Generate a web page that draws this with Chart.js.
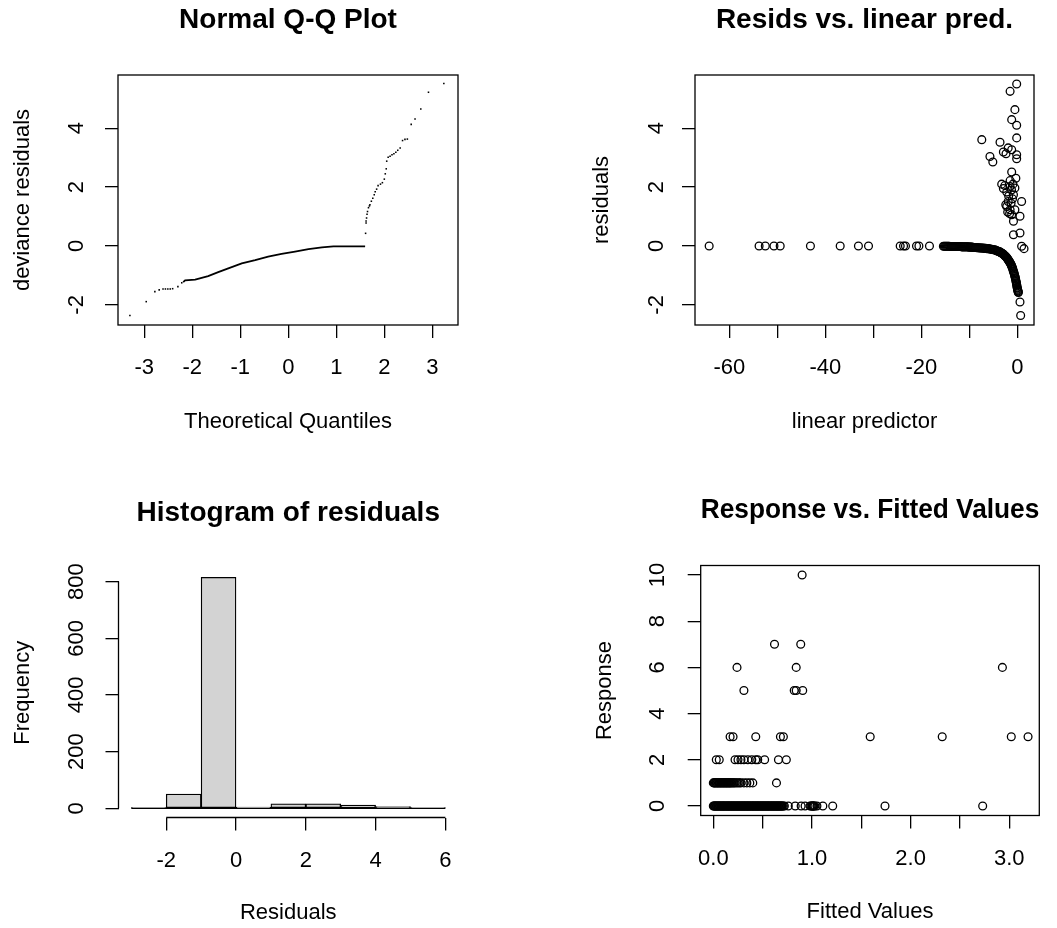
<!DOCTYPE html>
<html>
<head>
<meta charset="utf-8">
<script src="https://cdn.jsdelivr.net/npm/chart.js@4.4.1/dist/chart.umd.min.js"></script>
<style>
html,body{margin:0;padding:0;background:#fff;}
#wrap{position:relative;width:1057px;height:928px;overflow:hidden;background:#fff;}
canvas{position:absolute;}
</style>
</head>
<body>
<div id="wrap">
<canvas id="c1" width="528" height="464" style="left:0px;top:0px"></canvas>
<canvas id="c2" width="529" height="464" style="left:528px;top:0px"></canvas>
<canvas id="c3" width="528" height="464" style="left:0px;top:464px"></canvas>
<canvas id="c4" width="529" height="464" style="left:528px;top:464px"></canvas>
</div>
<script>
// ---------------- DATA ----------------
// Panel 1: Normal Q-Q plot (theoretical quantile, deviance residual)
const qqLowX = [-3.30, -2.96, -2.78, -2.69, -2.61, -2.56, -2.51, -2.46, -2.41, -2.30, -2.22];
const qqLowY = [-2.36, -1.89, -1.55, -1.49, -1.46, -1.46, -1.46, -1.46, -1.45, -1.38, -1.25];
const qqMidX = [-2.19, -2.15, -1.94, -1.67, -1.46, -1.25, -0.97, -0.69, -0.42, -0.14, 0.14, 0.42, 0.70, 0.94, 1.60];
const qqMidY = [-1.23, -1.17, -1.14, -1.02, -0.89, -0.76, -0.59, -0.48, -0.36, -0.27, -0.19, -0.11, -0.05, -0.01, -0.01];
const qqHighX = [1.61, 1.62, 1.62, 1.63, 1.64, 1.65, 1.67, 1.69, 1.70, 1.73, 1.76, 1.79, 1.81, 1.84, 1.87, 1.92, 1.96, 2.00, 2.02, 2.04, 2.05, 2.08, 2.12, 2.16, 2.20, 2.24, 2.28, 2.33, 2.38, 2.43, 2.48, 2.56, 2.64, 2.76, 2.92, 3.24];
const qqHighY = [0.43, 0.78, 0.85, 0.95, 1.08, 1.17, 1.30, 1.36, 1.40, 1.52, 1.62, 1.74, 1.84, 1.93, 2.05, 2.10, 2.15, 2.27, 2.45, 2.62, 2.88, 3.01, 3.05, 3.10, 3.13, 3.18, 3.25, 3.33, 3.58, 3.62, 3.63, 4.13, 4.31, 4.65, 5.22, 5.52];

// Panel 2: residuals vs linear predictor
const lpFarX = [-64.2, -53.8, -52.5, -50.7, -49.4, -43.1, -36.9, -33.1, -31.0, -24.4, -23.7, -23.3, -21.0, -20.5, -18.3];
const lpFarY = [0, 0, 0, 0, 0, 0, 0, 0, 0, 0, 0, 0, 0, 0, 0];
const lpCurveX = [-15.4, -15.0, -14.6, -14.2, -13.8, -13.4, -13.0, -12.6, -12.2, -11.8, -11.4, -11.0, -10.6, -10.2, -9.8, -9.4, -9.0, -8.6, -8.2, -7.8, -7.4, -7.0, -6.6, -6.2, -5.8, -5.4, -5.0, -4.6, -4.3, -4.0, -3.7, -3.4, -3.1, -2.85, -2.6, -2.35, -2.1, -1.9, -1.7, -1.5, -1.3, -1.15, -1.0, -0.85, -0.7, -0.55, -0.42, -0.3, -0.2, -0.12, -0.04, 0.05, 0.15, 0.22];
const lpCurveY = [-0.01, -0.01, -0.01, -0.01, -0.02, -0.02, -0.02, -0.02, -0.02, -0.02, -0.03, -0.03, -0.03, -0.03, -0.04, -0.04, -0.05, -0.05, -0.06, -0.07, -0.07, -0.08, -0.08, -0.09, -0.10, -0.11, -0.13, -0.14, -0.16, -0.18, -0.20, -0.23, -0.26, -0.29, -0.33, -0.37, -0.42, -0.47, -0.52, -0.57, -0.63, -0.69, -0.75, -0.84, -0.91, -1.00, -1.08, -1.17, -1.25, -1.32, -1.40, -1.47, -1.53, -1.58];
const lpCurve2X = [-15.2, -14.8, -14.4, -14.0, -13.6, -13.2, -12.8, -12.4, -12.0, -11.6, -11.2, -10.8, -10.4, -10.0, -9.6, -9.2, -8.8, -8.4, -8.0, -7.6, -7.2, -6.8, -6.4, -6.0, -5.6, -5.2, -4.8, -4.45, -4.15, -3.85, -3.55, -3.25, -2.95, -2.7, -2.45, -2.2, -2.0, -1.8, -1.6, -1.4, -1.22, -1.08, -0.92, -0.78, -0.62, -0.48, -0.36, -0.25, -0.16, -0.08, 0.0, 0.1, 0.19];
const lpCurve2Y = [-0.01, -0.01, -0.01, -0.02, -0.02, -0.02, -0.02, -0.02, -0.02, -0.03, -0.03, -0.03, -0.03, -0.04, -0.04, -0.05, -0.05, -0.06, -0.06, -0.07, -0.07, -0.08, -0.09, -0.09, -0.10, -0.12, -0.13, -0.15, -0.17, -0.19, -0.21, -0.24, -0.27, -0.31, -0.35, -0.39, -0.44, -0.49, -0.54, -0.60, -0.66, -0.72, -0.79, -0.87, -0.95, -1.04, -1.12, -1.21, -1.28, -1.36, -1.43, -1.50, -1.56];
const lpHighX = [-0.13, -1.5, -0.5, -1.17, -0.13, -0.13, -7.4, -3.6, -1.9, -2.9, -2.35, -1.17, -0.13, -0.13, -5.7, -5.1, -1.17, -1.5, -3.25, -2.9, -1.5, -0.5, -2.2, -0.8, 0.9, -1.9, -2.2, -1.5, -0.5, -1.17, 0.56, -0.8, 0.56, -0.8, 0.9, 1.4, -2.6, -1.8, -1.3, -2.0, -1.0, -0.3, -1.6, -0.9, -2.4, -1.2];
const lpHighY = [5.50, 5.25, 4.63, 4.29, 4.10, 3.67, 3.61, 3.52, 3.33, 3.19, 3.13, 3.27, 3.10, 2.96, 3.04, 2.85, 2.51, 2.22, 2.10, 1.95, 2.02, 1.97, 1.83, 1.74, 1.51, 1.51, 1.34, 1.23, 1.23, 1.06, 1.01, 0.84, 0.44, 0.38, -0.01, -0.09, 2.05, 1.70, 1.45, 1.15, 1.60, 2.30, 1.10, 2.10, 1.40, 1.90];
const lpLowX = [0.56, 0.70];
const lpLowY = [-1.90, -2.36];

// Panel 3: histogram of residuals
const histBreaks = [-3, -2, -1, 0, 1, 2, 3, 4, 5, 6];
const histCounts = [1, 50, 815, 4, 16, 16, 11, 6, 2];

// Panel 4: response vs fitted values (fitted values grouped by observed response)
const fitResp0 = [0.000, 0.012, 0.025, 0.037, 0.050, 0.062, 0.075, 0.088, 0.100, 0.112, 0.125, 0.138, 0.150, 0.162, 0.175, 0.188, 0.200, 0.212, 0.225, 0.238, 0.250, 0.262, 0.275, 0.288, 0.300, 0.312, 0.325, 0.338, 0.350, 0.362, 0.375, 0.388, 0.400, 0.412, 0.425, 0.438, 0.450, 0.462, 0.475, 0.488, 0.500, 0.512, 0.525, 0.538, 0.550, 0.562, 0.575, 0.588, 0.600, 0.612, 0.625, 0.638, 0.650, 0.662, 0.675, 0.688, 0.700, 0.720, 0.760, 0.830, 0.890, 0.930, 0.980, 0.990, 1.000, 1.010, 1.020, 1.030, 1.050, 1.110, 1.210, 1.740, 2.730];
const fitResp0b = [0.006, 0.018, 0.031, 0.043, 0.056, 0.068, 0.081, 0.094, 0.106, 0.118, 0.131, 0.144, 0.156, 0.168, 0.181, 0.194, 0.206, 0.218, 0.231, 0.244, 0.256, 0.268, 0.281, 0.294, 0.306, 0.318, 0.331, 0.344, 0.356, 0.368, 0.381, 0.394, 0.406, 0.418, 0.431, 0.444, 0.456, 0.468, 0.481, 0.494, 0.506, 0.518, 0.531, 0.544, 0.556, 0.568, 0.581, 0.594, 0.606, 0.618, 0.631, 0.644, 0.656, 0.668, 0.681, 0.694, 0.710, 1.005, 1.015];
const fitResp1 = [0.000, 0.015, 0.030, 0.045, 0.060, 0.075, 0.090, 0.105, 0.120, 0.135, 0.150, 0.165, 0.180, 0.200, 0.220, 0.250, 0.280, 0.310, 0.340, 0.370, 0.400, 0.640];
const fitResp1b = [0.008, 0.022, 0.038, 0.052, 0.068, 0.082, 0.098, 0.112, 0.128, 0.142, 0.158, 0.172, 0.190, 0.210, 0.235, 0.265];
const fitResp2 = [0.03, 0.06, 0.22, 0.25, 0.28, 0.31, 0.35, 0.39, 0.43, 0.45, 0.52, 0.66, 0.74];
const fitResp3 = [0.17, 0.20, 0.43, 0.68, 0.71, 1.59, 2.32, 3.02, 3.19];
const fitResp5 = [0.31, 0.82, 0.84, 0.906];
const fitResp6 = [0.24, 0.84, 2.93];
const fitResp7 = [0.62, 0.886];
const fitResp10 = [0.90];
const responseLevels = [0, 0, 1, 1, 2, 3, 5, 6, 7, 10];
const fittedByLevel = [fitResp0, fitResp0b, fitResp1, fitResp1b, fitResp2, fitResp3, fitResp5, fitResp6, fitResp7, fitResp10];

// Tick values and labels
const qqXTicks = [-3, -2, -1, 0, 1, 2, 3];
const qqXLabels = ['-3', '-2', '-1', '0', '1', '2', '3'];
const residTicks = [-2, 0, 2, 4];
const residLabels = ['-2', '0', '2', '4'];
const lpXTicks = [-60, -50, -40, -30, -20, -10, 0];
const lpXLabels = ['-60', '', '-40', '', '-20', '', '0'];
const histXTicks = [-2, 0, 2, 4, 6];
const histXLabels = ['-2', '0', '2', '4', '6'];
const histYTicks = [0, 200, 400, 600, 800];
const histYLabels = ['0', '200', '400', '600', '800'];
const fitXTicks = [0, 0.5, 1, 1.5, 2, 2.5, 3];
const fitXLabels = ['0.0', '', '1.0', '', '2.0', '', '3.0'];
const respYTicks = [0, 2, 4, 6, 8, 10];
const respYLabels = ['0', '2', '4', '6', '8', '10'];

// ---------------- RENDERING ----------------
const FF = '"Liberation Sans", Arial, Helvetica, sans-serif';
const BLACK = '#000';
const LW = 1.3;
const FS = 22;

function textW(t, size) {
  const c = document.createElement('canvas').getContext('2d');
  c.font = size + 'px ' + FF;
  return c.measureText(t).width;
}
const pts = (xs, ys) => xs.map((x, i) => ({x: x, y: ys[i]}));
function spread(points, k) {
  const out = [];
  for (let j = 0; j < k; j++) out.push(points.filter((p, i) => i % k === j));
  return out;
}

const framePlugin = {
  id: 'rframe',
  afterDatasetsDraw(chart, args, opts) {
    const a = chart.chartArea, ctx = chart.ctx;
    ctx.save();
    ctx.strokeStyle = BLACK;
    ctx.lineWidth = LW;
    if (opts.box) {
      ctx.strokeRect(a.left, a.top, a.right - a.left, a.bottom - a.top);
    } else {
      const xs = chart.scales.x, ys = chart.scales.y;
      const xt = xs.ticks, yt = ys.ticks;
      ctx.beginPath();
      ctx.moveTo(xs.getPixelForValue(xt[0].value), a.bottom);
      ctx.lineTo(xs.getPixelForValue(xt[xt.length - 1].value), a.bottom);
      ctx.moveTo(a.left, ys.getPixelForValue(yt[0].value));
      ctx.lineTo(a.left, ys.getPixelForValue(yt[yt.length - 1].value));
      ctx.stroke();
    }
    ctx.restore();
  }
};

function makePanel(id, L, type, datasets) {
  const W = L.W, H = L.H;
  const tickFont = {family: FF, size: FS, lineHeight: 1};
  const labFont = {family: FF, size: FS, lineHeight: 1};
  const titleTop = L.titleY - 14;
  const yWidest = Math.max.apply(null, L.yLabels.map(t => textW(t, FS)));
  const gridOpts = {display: true, drawOnChartArea: false, drawTicks: true, tickLength: 13, color: BLACK, lineWidth: LW, offset: false};
  return new Chart(document.getElementById(id), {
    type: type,
    data: {datasets: datasets},
    plugins: [framePlugin],
    options: {
      responsive: false,
      animation: false,
      devicePixelRatio: 1,
      events: [],
      layout: {padding: {left: 0, top: 0, bottom: 0, right: W - L.box.r}},
      plugins: {
        legend: {display: false},
        tooltip: {enabled: false},
        decimation: {enabled: false},
        title: {
          display: true, text: L.title, fullSize: false, color: BLACK,
          font: {family: FF, size: 28, weight: 'bold', lineHeight: 1},
          padding: {top: titleTop, bottom: L.box.t - titleTop - 28}
        },
        rframe: {box: L.frame}
      },
      scales: {
        x: {
          type: 'linear', position: 'bottom', min: L.xMin, max: L.xMax, offset: false,
          afterFit: s => { s.height = H - L.box.b; },
          afterBuildTicks: s => { s.ticks = L.xTicks.map(v => ({value: v})); },
          grid: gridOpts,
          border: {display: false},
          ticks: {
            color: BLACK, font: tickFont, padding: L.xTickY - L.box.b - 13 - FS / 2,
            maxRotation: 0, minRotation: 0, autoSkip: false,
            callback: (v, i) => L.xLabels[i]
          },
          title: {display: true, text: L.xTitle, color: BLACK, font: labFont, padding: {top: 0, bottom: H - L.xLabY - FS / 2}}
        },
        y: {
          type: 'linear', position: 'left', min: L.yMin, max: L.yMax,
          afterFit: s => { s.width = L.box.l; },
          afterBuildTicks: s => { s.ticks = L.yTicks.map(v => ({value: v})); },
          grid: gridOpts,
          border: {display: false},
          ticks: {
            color: BLACK, font: tickFont, padding: L.box.l - 13 - L.yTickX - yWidest / 2,
            minRotation: 90, maxRotation: 90, crossAlign: 'center', autoSkip: false,
            callback: (v, i) => L.yLabels[i]
          },
          title: {display: true, text: L.yTitle, color: BLACK, font: labFont, padding: {top: L.yLabX - FS / 2, bottom: 0}}
        }
      }
    }
  });
}

const circleStyle = {
  showLine: false, pointStyle: 'circle', pointRadius: 3.9, pointBorderWidth: 1.3,
  pointBorderColor: BLACK, pointBackgroundColor: 'rgba(0,0,0,0)', pointHoverRadius: 3.9
};

// Panel 1
makePanel('c1', {
  W: 528, H: 464, box: {l: 118, r: 458, t: 75, b: 325}, frame: true,
  title: 'Normal Q-Q Plot', titleY: 20,
  xTitle: 'Theoretical Quantiles', xLabY: 422, xTickY: 368,
  yTitle: 'deviance residuals', yLabX: 23, yTickX: 77,
  xMin: -3.548, xMax: 3.535, yMin: -2.683, yMax: 5.806,
  xTicks: qqXTicks, xLabels: qqXLabels, yTicks: residTicks, yLabels: residLabels
}, 'scatter', [
  {data: pts(qqMidX, qqMidY), showLine: true, borderColor: BLACK, borderWidth: 1.8, pointRadius: 0, fill: false, tension: 0},
  {data: pts(qqLowX.concat(qqHighX), qqLowY.concat(qqHighY)), showLine: false, pointStyle: 'rect', pointRadius: 1.1, pointBorderWidth: 0, pointBackgroundColor: BLACK, pointBorderColor: BLACK}
]);

// Panel 2
const lpPoints = pts(lpFarX.concat(lpCurveX, lpCurve2X, lpHighX, lpLowX), lpFarY.concat(lpCurveY, lpCurve2Y, lpHighY, lpLowY));
makePanel('c2', {
  W: 529, H: 464, box: {l: 167, r: 506, t: 75, b: 325}, frame: true,
  title: 'Resids vs. linear pred.', titleY: 20,
  xTitle: 'linear predictor', xLabY: 422, xTickY: 368,
  yTitle: 'residuals', yLabX: 73.5, yTickX: 129,
  xMin: -67.15, xMax: 3.48, yMin: -2.683, yMax: 5.806,
  xTicks: lpXTicks, xLabels: lpXLabels, yTicks: residTicks, yLabels: residLabels
}, 'scatter', spread(lpPoints, 7).map(d => Object.assign({data: d}, circleStyle)));

// Panel 3
const histData = histCounts.map((c, i) => ({x: (histBreaks[i] + histBreaks[i + 1]) / 2, y: c}));
makePanel('c3', {
  W: 528, H: 464, box: {l: 118.5, r: 458, t: 104, b: 353.5}, frame: false,
  title: 'Histogram of residuals', titleY: 49,
  xTitle: 'Residuals', xLabY: 449, xTickY: 396.5,
  yTitle: 'Frequency', yLabX: 23, yTickX: 77,
  xMin: -3.367, xMax: 6.361, yMin: -32.5, yMax: 848,
  xTicks: histXTicks, xLabels: histXLabels, yTicks: histYTicks, yLabels: histYLabels
}, 'bar', [
  {type: 'line', data: [{x: histBreaks[0], y: 0}, {x: histBreaks[histBreaks.length - 1], y: 0}], borderColor: BLACK, borderWidth: LW, pointRadius: 0, order: 0},
  {type: 'bar', data: histData, backgroundColor: '#d3d3d3', borderColor: BLACK, borderWidth: LW, borderSkipped: false, barPercentage: 1, categoryPercentage: 1, grouped: false, order: 1}
]);

// Panel 4
const respX = [], respY = [];
fittedByLevel.forEach((arr, k) => arr.forEach(v => { respX.push(v); respY.push(responseLevels[k]); }));
makePanel('c4', {
  W: 529, H: 464, box: {l: 172.7, r: 511.3, t: 101.5, b: 351.5}, frame: true,
  title: 'Response vs. Fitted Values', titleY: 46.5,
  xTitle: 'Fitted Values', xLabY: 448, xTickY: 394.5,
  yTitle: 'Response', yLabX: 77, yTickX: 130,
  xMin: -0.128, xMax: 3.304, yMin: -0.411, yMax: 10.411,
  xTicks: fitXTicks, xLabels: fitXLabels, yTicks: respYTicks, yLabels: respYLabels
}, 'scatter', spread(pts(respX, respY), 7).map(d => Object.assign({data: d}, circleStyle)));
</script>
</body>
</html>
